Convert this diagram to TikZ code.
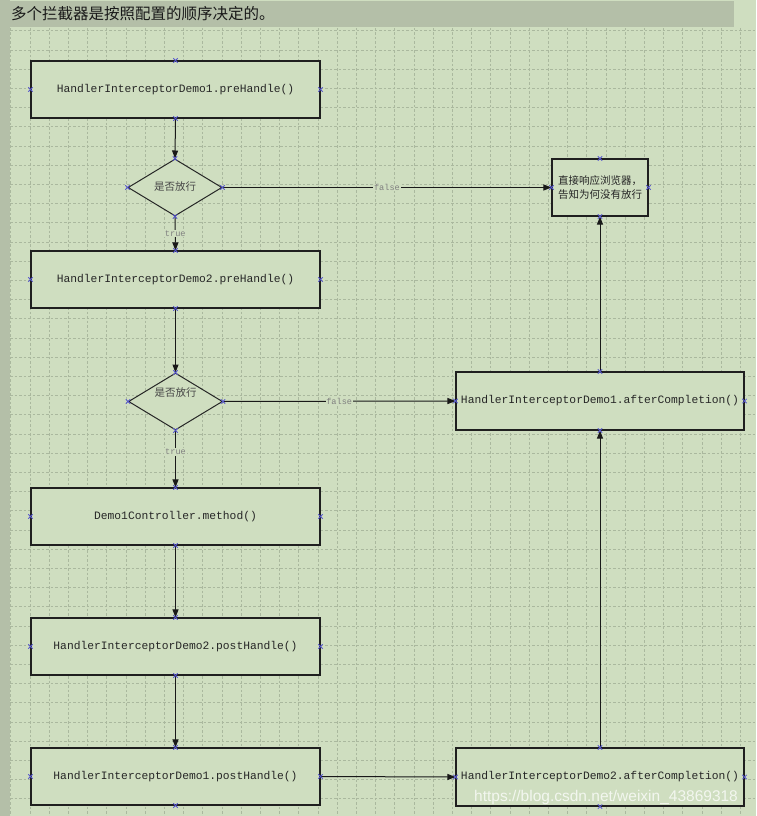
\documentclass[tikz,border=0pt]{standalone}
\usepackage{fontspec}
\setmonofont{Liberation Mono}
\newfontfamily\cjk{Noto Sans CJK SC}
\newfontfamily\wmfont{Liberation Sans}
\usetikzlibrary{shapes.geometric,arrows.meta}
\definecolor{bg}{HTML}{CFDEC0}
\definecolor{band}{HTML}{B4BFA8}
\definecolor{gridc}{HTML}{AAB89E}
\definecolor{txt}{HTML}{262626}
\definecolor{xblue}{HTML}{5555CC}
\tikzset{
  gridline/.style={draw=gridc, line width=0.7pt, dash pattern=on 2.5pt off 2pt},
  box/.style={rectangle, draw=black!88, fill=bg, line width=1.1pt, minimum width=289pt, minimum height=57pt, inner sep=0pt,
    font=\ttfamily\fontsize{11.3}{13}\selectfont, text=txt},
  dia/.style={diamond, draw=black!85, fill=bg, line width=1pt, minimum width=94pt, minimum height=57pt, inner sep=0pt, aspect=1.65},
  smallbox/.style={rectangle, draw=black!88, fill=bg, line width=1.1pt, minimum width=96pt, minimum height=57pt, inner sep=0pt},
  dtext/.style={font=\cjk\fontsize{10.5}{12}\selectfont, text=txt!85},
  arr/.style={draw=black!90, line width=1pt, -{Triangle[length=8pt,width=6pt]}},
  lbl/.style={font=\ttfamily\fontsize{8.6}{10}\selectfont, text=black!50, fill=bg, inner sep=0.8pt},
  xm/.style={draw=xblue, line width=0.8pt}
}
\begin{document}
\begin{tikzpicture}[x=1pt,y=-1pt]
\useasboundingbox (0,0) rectangle (756,816);
\fill[bg] (0,0) rectangle (756,816);
\fill[band] (0,0) rectangle (10,816);
\fill[band] (0,1) rectangle (734,27);
% grid
\foreach \i in {0,...,38} \draw[gridline] ({10.7+19.2*\i},28) -- ({10.7+19.2*\i},816);
\foreach \j in {0,...,40} \draw[gridline] (10,{30.8+19.2*\j}) -- (756,{30.8+19.2*\j});
% header
\node[anchor=west, inner sep=0pt, font=\cjk\fontsize{15.5}{18}\selectfont, text=black!90] (hdr) at (11,14) {多个拦截器是按照配置的顺序决定的。};
% nodes
\node[box] (b1) at (175.5,89.5) {HandlerInterceptorDemo1.preHandle()};
\node[dia] (d1) at (175,187.5) {};
\node[dtext] (d1t) at (175,187) {是否放行};
\node[box] (b2) at (175.5,279.5) {HandlerInterceptorDemo2.preHandle()};
\node[dia] (d2) at (175.5,401.5) {};
\node[dtext] (d2t) at (175.5,393) {是否放行};
\node[box] (b3) at (175.5,516.5) {Demo1Controller.method()};
\node[box] (b4) at (175.5,646.5) {HandlerInterceptorDemo2.postHandle()};
\node[box] (b5) at (175.5,776.5) {HandlerInterceptorDemo1.postHandle()};
\node[smallbox] (sb) at (600,187.5) {};
\node[font=\cjk\fontsize{10.5}{14}\selectfont, text=txt, align=left, inner sep=0pt] (sbt) at (600,187.5) {直接响应浏览器，\\告知为何没有放行};
\node[box, minimum width=288pt, minimum height=58pt] (ac1) at (600,401) {HandlerInterceptorDemo1.afterCompletion()};
\node[box, minimum width=288pt, minimum height=58pt] (ac2) at (600,777) {HandlerInterceptorDemo2.afterCompletion()};
% connectors
\draw[arr] (b1.south) -- (d1.north);
\draw[arr] (d1.south) -- node[lbl] (t1) {true} (b2.north);
\draw[arr] (d1.east) -- node[lbl] (f1) {false} (sb.west);
\draw[arr] (b2.south) -- (d2.north);
\draw[arr] (d2.east) -- node[lbl] (f2) {false} (ac1.west);
\draw[arr] (d2.south) -- node[lbl, pos=0.38] (t2) {true} (b3.north);
\draw[arr] (b3.south) -- (b4.north);
\draw[arr] (b4.south) -- (b5.north);
\draw[arr] (b5.east) -- (ac2.west);
\draw[arr] (ac2.north) -- (ac1.south);
\draw[arr] (ac1.north) -- (sb.south);
% connection point markers
\foreach \n in {b1,d1,b2,d2,b3,b4,b5,sb,ac1,ac2}
  \foreach \a in {north,south,east,west}
    \draw[xm] (\n.\a) +(-2.2,-2.2) -- +(2.2,2.2) +(-2.2,2.2) -- +(2.2,-2.2);
% watermark
\node[anchor=west, inner sep=0pt, font=\wmfont\fontsize{15.5}{18}\selectfont, text=white, text opacity=0.75] (wm) at (474,797) {https://blog.csdn.net/weixin\_43869318};
\end{tikzpicture}
\end{document}
